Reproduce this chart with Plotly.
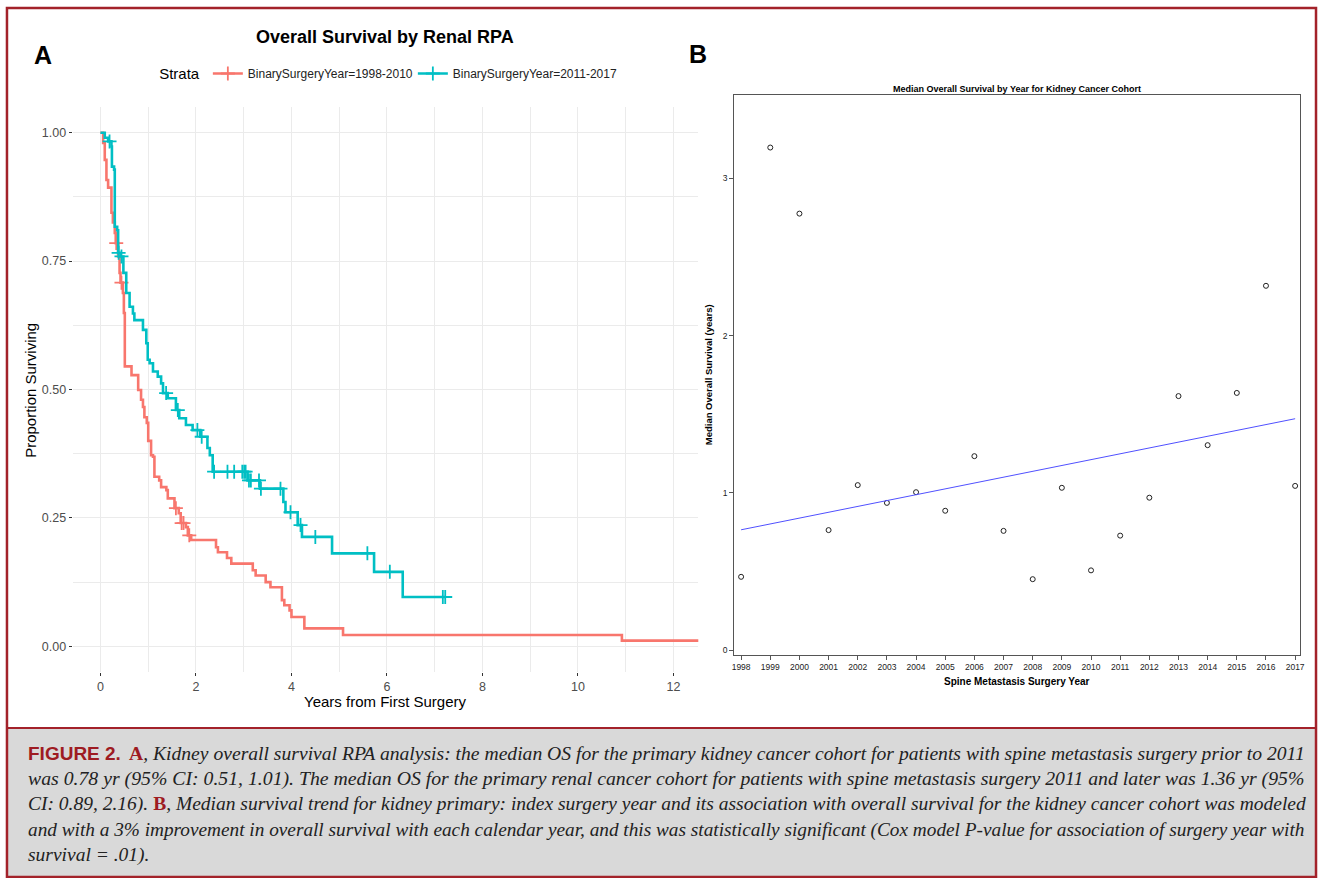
import numpy as np
import plotly.graph_objects as go

W, H = 1323, 878

# ---------------- Panel A data (Kaplan-Meier steps) ----------------
red_name = "BinarySurgeryYear=1998-2010"
red_times = [0, 0.056, 0.09, 0.125, 0.16, 0.23, 0.26, 0.30, 0.32, 0.37, 0.40, 0.42, 0.47, 0.49,
             0.51, 0.65, 0.79, 0.85, 0.89, 0.92, 0.97, 1.00, 1.06, 1.10, 1.13, 1.23, 1.27, 1.38,
             1.41, 1.55, 1.64, 1.68, 1.79, 1.83, 1.90, 2.42, 2.46, 2.65, 2.74, 3.19, 3.25, 3.46,
             3.56, 3.80, 3.85, 3.96, 4.00, 4.27, 5.08, 10.92]
red_surv = [1.0, 0.98, 0.947, 0.908, 0.893, 0.844, 0.825, 0.805, 0.785, 0.759, 0.727, 0.708,
            0.688, 0.649, 0.545, 0.528, 0.499, 0.48, 0.466, 0.446, 0.435, 0.40, 0.372, 0.369,
            0.33, 0.323, 0.31, 0.304, 0.288, 0.269, 0.259, 0.240, 0.232, 0.216, 0.207, 0.193,
            0.183, 0.172, 0.161, 0.148, 0.138, 0.125, 0.115, 0.09, 0.08, 0.07, 0.057, 0.035,
            0.022, 0.011]
red_end = 12.7
red_censor = [0.33, 0.44, 1.58, 1.70, 1.74, 1.86]

teal_name = "BinarySurgeryYear=2011-2017"
teal_times = [0, 0.09, 0.16, 0.23, 0.24, 0.285, 0.30, 0.35, 0.37, 0.42, 0.48, 0.54, 0.61, 0.68,
              0.71, 0.89, 0.96, 0.99, 1.03, 1.10, 1.20, 1.27, 1.31, 1.41, 1.58, 1.65, 1.79, 1.93,
              2.09, 2.24, 2.29, 2.35, 3.08, 3.34, 3.83, 3.875, 4.13, 4.22, 4.85, 5.73, 6.33]
teal_surv = [1.0, 0.99, 0.983, 0.973, 0.934, 0.928, 0.817, 0.81, 0.766, 0.759, 0.727, 0.688,
             0.661, 0.648, 0.635, 0.616, 0.59, 0.558, 0.551, 0.535, 0.525, 0.512, 0.493, 0.483,
             0.46, 0.444, 0.431, 0.421, 0.408, 0.386, 0.372, 0.34, 0.323, 0.307, 0.281, 0.261,
             0.236, 0.213, 0.181, 0.145, 0.096]
teal_end = 7.23
teal_censor = [0.19, 0.38, 0.44, 1.375, 1.62, 2.03, 2.12, 2.38, 2.66, 2.80, 2.97, 3.01, 3.04,
               3.11, 3.15, 3.32, 3.36, 3.77, 3.98, 4.19, 4.50, 5.59, 6.06, 7.17, 7.22]

# ---------------- Panel B data ----------------
years = list(range(1998, 2018))
median_os = [0.467, 3.196, 2.776, 0.764, 1.050, 0.937, 1.005, 0.887, 1.234, 0.759, 0.452,
             1.033, 0.508, 0.729, 0.970, 1.616, 1.304, 1.636, 2.317, 1.045]
trend_years = [1998, 2017]
trend_vals = [0.766, 1.472]

RED = "#F8766D"
TEAL = "#00BFC4"
BORDER = "#a3222a"


def px(x):
    return x / W


def py(y):
    return 1 - y / H


def surv_at(times, surv, t):
    idx = np.searchsorted(np.array(times), np.array(t), side="right") - 1
    return list(np.array(surv)[idx])


fig = go.Figure()

for name, times, surv, end, cens, col in [
    (red_name, red_times, red_surv, red_end, red_censor, RED),
    (teal_name, teal_times, teal_surv, teal_end, teal_censor, TEAL),
]:
    fig.add_trace(go.Scatter(
        x=times + [end], y=surv + [surv[-1]], mode="lines", line=dict(color=col, width=2.6, shape="hv"),
        xaxis="x", yaxis="y", showlegend=False, hoverinfo="skip"))
    fig.add_trace(go.Scatter(
        x=cens, y=surv_at(times, surv, cens), mode="markers",
        marker=dict(symbol="cross-thin", size=10, line=dict(color=col, width=1.8), color=col),
        xaxis="x", yaxis="y", showlegend=False, hoverinfo="skip"))
    fig.add_trace(go.Scatter(
        x=[None], y=[None], mode="lines+markers", name=name,
        line=dict(color=col, width=2.6),
        marker=dict(symbol="cross-thin", size=10, line=dict(color=col, width=1.8), color=col),
        xaxis="x", yaxis="y", showlegend=True))

# Panel B
fig.add_trace(go.Scatter(
    x=years, y=median_os, mode="markers",
    marker=dict(symbol="circle-open", size=5, color="#222", line=dict(width=1)),
    xaxis="x2", yaxis="y2", showlegend=False))
fig.add_trace(go.Scatter(
    x=trend_years, y=trend_vals, mode="lines", line=dict(color="#5050ff", width=1),
    xaxis="x2", yaxis="y2", showlegend=False))

grid = "#ebebeb"
fig.update_layout(
    width=W, height=H, margin=dict(l=0, r=0, t=0, b=0),
    paper_bgcolor="white", plot_bgcolor="white",
    font=dict(family="Liberation Sans, Arial, sans-serif", color="black"),
    xaxis=dict(domain=[px(71), px(700)], range=[-0.583, 12.52], dtick=2, tick0=0,
               showgrid=True, gridcolor=grid, gridwidth=1.2, zeroline=False, showline=False,
               ticks="outside", ticklen=3, tickcolor="#333", tickwidth=1,
               tickfont=dict(size=12.5, color="#4d4d4d"),
               minor=dict(dtick=1, tick0=0, showgrid=True, gridcolor=grid, gridwidth=0.7),
               anchor="y", fixedrange=True),
    yaxis=dict(domain=[py(672), py(107)], range=[-0.05, 1.05], dtick=0.25, tick0=0,
               tickformat=".2f", showgrid=True, gridcolor=grid, gridwidth=1.2, zeroline=False,
               showline=False, ticks="outside", ticklen=3, tickcolor="#333", tickwidth=1,
               tickfont=dict(size=12.5, color="#4d4d4d"),
               minor=dict(dtick=0.125, tick0=0, showgrid=True, gridcolor=grid, gridwidth=0.7),
               anchor="x", fixedrange=True),
    xaxis2=dict(domain=[px(736), px(1305)], range=[1997.76, 2017.17], dtick=1, tick0=1998,
                showgrid=False, zeroline=False, showline=True, mirror=True, linecolor="#555",
                linewidth=1, ticks="outside", ticklen=4, tickcolor="#555",
                tickfont=dict(size=8.5, color="#222"), anchor="y2", fixedrange=True),
    yaxis2=dict(domain=[py(655), py(95)], range=[-0.03, 3.53], dtick=1, tick0=0,
                showgrid=False, zeroline=False, showline=True, mirror=True, linecolor="#555",
                linewidth=1, ticks="outside", ticklen=4, tickcolor="#555",
                tickfont=dict(size=8.5, color="#222"), anchor="x2", fixedrange=True),
    legend=dict(orientation="h", x=px(156), y=py(74), xanchor="left", yanchor="middle",
                title=dict(text="Strata", font=dict(size=15, color="black")),
                font=dict(size=12, color="#222"), bgcolor="rgba(0,0,0,0)",
                itemwidth=30, tracegroupgap=0, entrywidth=160, entrywidthmode="pixels"),
)

shapes = [
    dict(type="rect", xref="paper", yref="paper", x0=px(5), x1=px(1321), y0=py(877), y1=py(728),
         fillcolor="#d9d9d9", line=dict(width=0), layer="below"),
    dict(type="line", xref="paper", yref="paper", x0=px(5), x1=px(1321), y0=py(728), y1=py(728),
         line=dict(color=BORDER, width=2)),
    dict(type="rect", xref="paper", yref="paper", x0=px(5), x1=px(1321), y0=py(877), y1=py(8),
         line=dict(color=BORDER, width=2.5)),
]
fig.update_layout(shapes=shapes)

ann = []


def add(text, x, y, size, bold=False, color="black", family=None, xanchor="center",
        yanchor="middle", angle=0):
    d = dict(text=("<b>%s</b>" % text) if bold else text, x=px(x), y=py(y), xref="paper",
             yref="paper", showarrow=False, xanchor=xanchor, yanchor=yanchor, textangle=angle,
             font=dict(size=size, color=color,
                       family=family or "Liberation Sans, Arial, sans-serif"))
    ann.append(d)


# Panel A texts
add("Overall Survival by Renal RPA", 385, 37, 18, bold=True)
add("A", 41, 55, 25, bold=True)
add("B", 700, 54, 25, bold=True)
add("Proportion Surviving", 28, 390, 15, angle=-90)
add("Years from First Surgery", 385, 701, 15)

# Panel B texts
add("Median Overall Survival by Year for Kidney Cancer Cohort", 1020, 89, 9, bold=True)
add("Median Overall Survival (years)", 710, 375, 9.5, bold=True, angle=-90)
add("Spine Metastasis Surgery Year", 1020, 681, 10, bold=True)

# Caption
serif = "Liberation Serif, Times New Roman, serif"
redc = "#9e1b22"
line_y = [753, 778.5, 804, 829.5, 855]
add("FIGURE 2.", 24, line_y[0], 19, bold=True, color=redc,
    family="Liberation Sans, Arial, sans-serif", xanchor="left")
caption_lines = [
    (126, 19.62, "<span style='color:%s'><b>A</b></span><i>, Kidney overall survival RPA analysis: the median OS for the primary kidney cancer cohort for patients with spine metastasis surgery prior to 2011</i>" % redc),
    (24, 19.75, "<i>was 0.78 yr (95% CI: 0.51, 1.01). The median OS for the primary renal cancer cohort for patients with spine metastasis surgery 2011 and later was 1.36 yr (95%</i>"),
    (24, 19.5, "<i>CI: 0.89, 2.16). </i><span style='color:%s'><b>B</b></span><i>, Median survival trend for kidney primary: index surgery year and its association with overall survival for the kidney cancer cohort was modeled</i>" % redc),
    (24, 19.28, "<i>and with a 3% improvement in overall survival with each calendar year, and this was statistically significant (Cox model P-value for association of surgery year with</i>"),
    (24, 19.5, "<i>survival = .01).</i>"),
]
for (x0, sz, txt), yy in zip(caption_lines, line_y):
    add(txt, x0, yy, sz, color="#222", family=serif, xanchor="left")

fig.update_layout(annotations=ann)
fig.write_html("out.html", config={"displayModeBar": False},
               post_script="document.body.style.margin='0px';document.body.style.overflow='hidden';")
